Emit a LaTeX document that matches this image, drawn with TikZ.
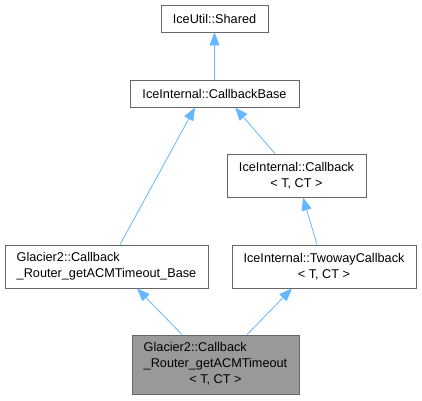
\documentclass[tikz,border=0pt]{standalone}
\usepackage{fontspec}
\setmainfont{Liberation Sans}
\usetikzlibrary{arrows.meta}
\definecolor{edgeblue}{RGB}{99,184,255}
\definecolor{boxgray}{RGB}{102,102,102}
\definecolor{curfill}{RGB}{153,153,153}

\begin{document}
\begin{tikzpicture}[x=1pt,y=1pt,yscale=-1,
  cls/.style={draw=boxgray,line width=0.8pt,inner sep=0pt,fill=white,font=\fontsize{12.7}{16}\selectfont},
  inh/.style={draw=edgeblue,line width=0.8pt,-{Triangle[length=13pt,width=10pt,fill=edgeblue]}}]
\useasboundingbox (0,0) rectangle (422,400);

%Class boxes
\node[cls,minimum width=107,minimum height=27] (shared) at (214.5,18.5) {IceUtil::Shared};
\node[cls,minimum width=169,minimum height=27] (cbbase) at (214.5,93.5) {IceInternal::CallbackBase};
\node[cls,minimum width=139,minimum height=43,align=center] (callback) at (296.5,175.5) {IceInternal::Callback\\< T, CT >};
\node[cls,minimum width=203,minimum height=43,align=left] (glbase) at (106.5,266.5) {Glacier2::Callback\\\_Router\_getACMTimeout\_Base};
\node[cls,minimum width=184,minimum height=43,align=center] (twoway) at (324,266.5) {IceInternal::TwowayCallback\\< T, CT >};
\node[cls,fill=curfill,minimum width=167,minimum height=59] (current) at (215.5,364.5) {\begin{tabular}{@{}l@{}}Glacier2::Callback\\\_Router\_getACMTimeout\\\multicolumn{1}{@{}c@{}}{< T, CT >}\end{tabular}};

%Inheritance edges
\draw[inh] (cbbase.north) -- (shared.south);
\draw[inh] ([xshift=13.5pt]glbase.north) -- ([xshift=-19.5pt]cbbase.south);
\draw[inh] ([xshift=-21.5pt]callback.north) -- ([xshift=20.5pt]cbbase.south);
\draw[inh] ([xshift=-7pt]twoway.north) -- ([xshift=6.5pt]callback.south);
\draw[inh] ([xshift=-33.5pt]current.north) -- ([xshift=30.5pt]glbase.south);
\draw[inh] ([xshift=31.5pt]current.north) -- ([xshift=-32pt]twoway.south);

\end{tikzpicture}
\end{document}
